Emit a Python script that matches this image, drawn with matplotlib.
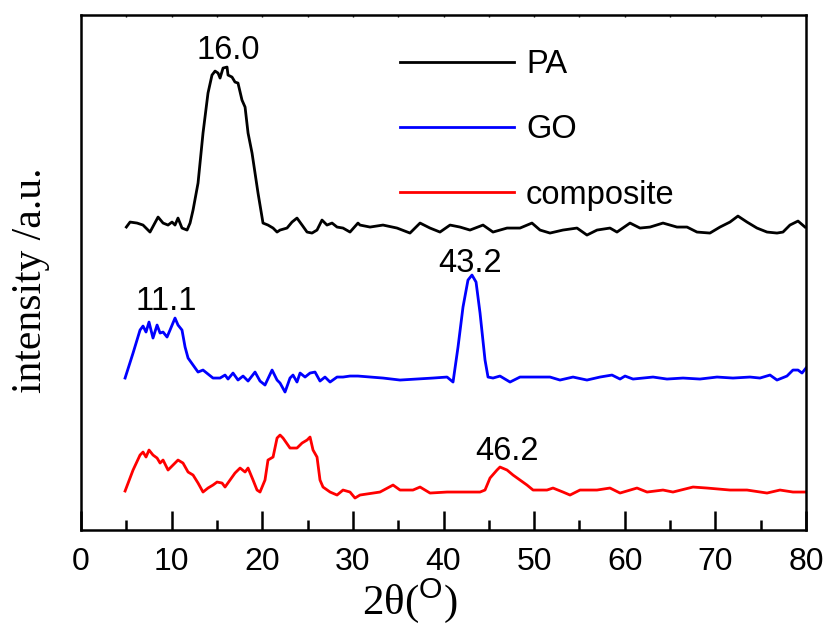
import numpy as np
import matplotlib
matplotlib.use('Agg')
import matplotlib.pyplot as plt
from matplotlib.ticker import MultipleLocator

# XRD patterns (2theta in degrees, intensity in a.u., already offset)
pa_x = [5.0, 5.41, 6.18, 6.84, 7.61, 8.50, 9.05, 9.60, 10.04, 10.37, 10.70, 11.14, 11.70, 12.03,
        12.36, 12.91, 13.46, 14.01, 14.45, 14.79, 15.12, 15.34, 15.67, 16.11, 16.22, 16.66, 16.99,
        17.32, 17.76, 18.10, 18.43, 18.87, 19.20, 19.53, 20.08, 20.63, 21.19, 21.63, 21.96, 22.73,
        23.28, 23.83, 24.39, 24.94, 25.49, 26.04, 26.59, 27.14, 27.70, 28.25, 28.91, 29.68, 30.56,
        30.78, 31.89, 33.32, 34.87, 36.30, 37.41, 38.51, 39.61, 40.72, 41.82, 42.92, 44.36, 45.46,
        47.01, 48.44, 49.76, 50.65, 51.75, 53.18, 54.73, 55.83, 56.94, 58.37, 59.14, 60.58, 61.68,
        62.79, 64.22, 65.76, 66.87, 67.97, 69.40, 70.51, 71.61, 72.49, 73.49, 74.59, 75.70, 76.80,
        77.46, 78.23, 79.12, 79.89]
pa_y = [303, 308, 307, 305, 298, 313, 307, 305, 308, 305, 312, 302, 300, 307,
        320, 347, 397, 437, 455, 459, 457, 452, 462, 463, 455, 453, 448,
        447, 430, 423, 397, 377, 357, 337, 307, 305, 302, 298, 300, 302,
        308, 312, 305, 298, 297, 300, 310, 305, 307, 303, 302, 298, 307,
        305, 303, 305, 302, 297, 307, 302, 298, 305, 303, 300, 305, 298,
        302, 302, 307, 300, 297, 300, 302, 295, 300, 302, 298, 307, 302,
        303, 307, 303, 303, 298, 297, 303, 308, 314, 308, 302, 298, 297,
        298, 305, 309, 303]

go_x = [4.86, 5.74, 6.51, 6.84, 7.17, 7.50, 7.94, 8.39, 8.72, 9.05, 9.49, 9.82, 10.37, 10.70,
        11.14, 11.48, 11.81, 12.36, 12.91, 13.46, 14.01, 14.56, 15.34, 15.89, 16.22, 16.77, 17.32,
        17.88, 18.43, 19.20, 19.75, 20.30, 21.08, 21.63, 21.96, 22.51, 23.06, 23.39, 23.83, 24.17,
        24.72, 25.27, 25.82, 26.37, 26.92, 27.48, 28.25, 28.91, 29.68, 30.56, 33.32, 35.20, 38.84,
        40.39, 41.05, 41.60, 42.15, 42.70, 43.14, 43.59, 44.03, 44.58, 44.91, 45.46, 46.23, 47.34,
        48.44, 49.88, 51.75, 52.85, 54.29, 55.83, 57.27, 58.59, 59.48, 60.03, 60.91, 63.12, 64.66,
        66.43, 68.30, 70.18, 71.94, 73.82, 74.92, 76.03, 76.80, 77.90, 78.56, 79.12, 79.56, 80.0]
go_y = [152, 177, 200, 204, 198, 208, 192, 205, 197, 198, 193, 200, 212, 205,
        200, 183, 172, 165, 158, 160, 156, 152, 152, 155, 151, 157, 150,
        154, 149, 158, 149, 145, 160, 150, 147, 138, 152, 155, 148, 157,
        153, 157, 158, 149, 153, 148, 153, 153, 154, 154, 152, 150, 152,
        153, 148, 183, 223, 250, 255, 248, 217, 170, 153, 152, 154, 148,
        153, 153, 153, 150, 153, 150, 153, 155, 151, 154, 151, 153, 151,
        152, 151, 153, 152, 153, 152, 155, 150, 154, 160, 160, 157, 162]

comp_x = [4.86, 5.74, 6.51, 6.84, 7.17, 7.50, 7.94, 8.39, 8.72, 9.05, 9.60, 10.15, 10.70, 11.25,
          11.81, 12.36, 12.91, 13.46, 14.01, 14.56, 15.01, 15.56, 15.89, 16.44, 16.99, 17.55, 18.10,
          18.43, 18.98, 19.42, 19.75, 20.30, 20.63, 21.19, 21.63, 21.96, 22.29, 23.06, 23.83, 24.39,
          24.94, 25.27, 25.60, 26.04, 26.37, 26.70, 27.48, 28.25, 28.91, 29.68, 30.23, 30.78, 32.99,
          34.43, 35.20, 36.63, 37.41, 38.51, 40.39, 42.59, 44.03, 44.58, 45.13, 45.90, 46.23, 47.01,
          47.67, 48.44, 49.21, 49.88, 51.42, 52.08, 53.18, 53.96, 55.06, 56.94, 58.37, 59.48, 61.35,
          62.46, 64.22, 65.32, 67.53, 69.07, 71.61, 73.49, 75.70, 77.13, 78.56, 79.89]
comp_y = [39, 60, 75, 78, 73, 80, 75, 72, 67, 70, 60, 65, 70, 67,
          58, 55, 47, 38, 42, 45, 48, 47, 43, 50, 57, 62, 58,
          62, 50, 40, 38, 50, 70, 73, 92, 95, 92, 82, 82, 87,
          90, 93, 80, 73, 50, 43, 38, 35, 40, 38, 32, 35, 38,
          45, 40, 40, 43, 37, 38, 38, 38, 40, 52, 60, 63, 60,
          55, 50, 45, 40, 40, 42, 38, 35, 40, 40, 42, 37, 42,
          38, 40, 38, 43, 42, 40, 40, 37, 40, 38, 38]

# peak labels: (text, x, baseline y)
peak_labels = [('16.0', 16.2, 471), ('11.1', 9.4, 220), ('43.2', 42.9, 258), ('46.2', 47.0, 70)]

plt.rcParams['font.family'] = ['Liberation Sans', 'DejaVu Sans']
plt.rcParams['mathtext.fontset'] = 'custom'
plt.rcParams['mathtext.rm'] = 'Liberation Sans'

fig = plt.figure(figsize=(8.27, 6.28), dpi=100)
ax = fig.add_axes([0.098, 0.156, 0.8766, 0.82])

lw = 2.0
ax.plot(pa_x, pa_y, color='black', lw=lw, label='PA')
ax.plot(go_x, go_y, color='#0000ff', lw=lw, label='GO')
ax.plot(comp_x, comp_y, color='#ff0000', lw=lw, label='composite')

for txt, x, y in peak_labels:
    ax.text(x, y, txt, ha='center', va='baseline', fontsize=23.5)

ax.set_xlim(0, 80)
ax.set_ylim(0, 515)
ax.set_yticks([])
ax.xaxis.set_major_locator(MultipleLocator(10))
ax.xaxis.set_minor_locator(MultipleLocator(5))
ax.tick_params(axis='x', which='major', direction='in', length=13.5, width=1.8,
               labelsize=23, pad=12, top=True)
ax.tick_params(axis='x', which='minor', direction='in', length=7, width=1.8, top=True)
# tiny ticks on the top spine
for t in ax.xaxis.get_major_ticks() + ax.xaxis.get_minor_ticks():
    t.tick2line.set_markersize(1.5)
    t.tick2line.set_markeredgewidth(1)

for s in ax.spines.values():
    s.set_linewidth(1.8)

ax.set_xlabel(r'2θ($^{\rm O}$)', fontsize=31, family=['Liberation Serif', 'DejaVu Serif'])
ax.set_ylabel('intensity /a.u.', fontsize=30, family=['Liberation Serif', 'DejaVu Serif'])
ax.xaxis.set_label_coords(0.454, -0.09)
ax.yaxis.set_label_coords(-0.043, 0.485)

ax.legend(loc='upper left', bbox_to_anchor=(0.44, 0.934), frameon=False, fontsize=23.5,
          handlelength=3.5, handletextpad=0.36, labelspacing=1.05, borderpad=0, borderaxespad=0)

fig.savefig('out.png', dpi=100)
